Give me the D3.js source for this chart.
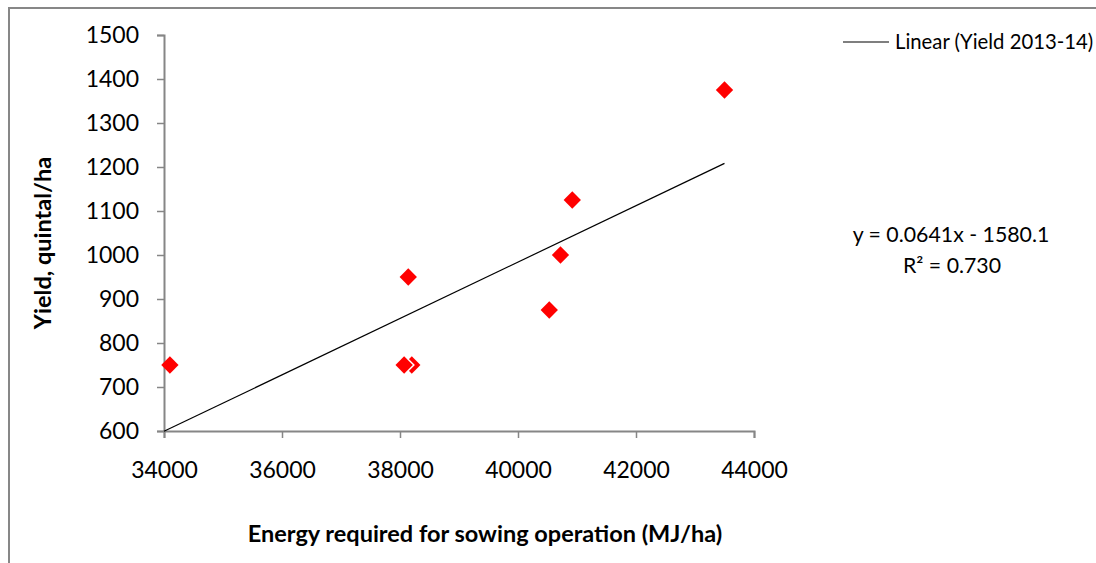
<!DOCTYPE html>
<html>
<head>
<meta charset="utf-8">
<script src="https://cdn.jsdelivr.net/npm/d3@7"></script>
<style>
  body { margin: 0; background: #fff; }
  text { font-family: Lato, "Open Sans", sans-serif; fill: #000; }
</style>
</head>
<body>
<div id="chart"></div>
<script>
// data
var energy = [34100, 38200, 38070, 38140, 40530, 40720, 40920, 43500];
var yieldVals = [750, 750, 750, 950, 875, 1000, 1125, 1375];
var xTicks = [34000, 36000, 38000, 40000, 42000, 44000];
var yTicks = [600, 700, 800, 900, 1000, 1100, 1200, 1300, 1400, 1500];
var trendSlope = 0.0641, trendIntercept = -1580.1;
var trendRange = [34000, 43500];
var eqLabel = "y = 0.0641x - 1580.1";
var r2Label = "R\u00b2 = 0.730";
var legendLabel = "Linear (Yield 2013-14)";

var W = 1096, H = 563;
var margin = { top: 35, left: 164, right: 342, bottom: 132 };
var width = W - margin.left - margin.right,
    height = H - margin.top - margin.bottom;

var svg = d3.select("#chart")
  .append("svg")
  .attr("width", W)
  .attr("height", H);

// outer frame (only top and left edges visible)
svg.append("path")
  .attr("d", "M9,563 V8 H1096")
  .attr("fill", "none")
  .attr("stroke", "#878787")
  .attr("stroke-width", 2);

var g = svg.append("g")
  .attr("transform", "translate(" + margin.left + "," + margin.top + ")");

var x = d3.scaleLinear().domain([34000, 44000]).range([0, width]);
var y = d3.scaleLinear().domain([600, 1500]).range([height, 0]);

// X axis
var xAxis = g.append("g")
  .attr("transform", "translate(0," + height + ")")
  .call(d3.axisBottom(x).tickValues(xTicks).tickFormat(d3.format("d")).tickSizeOuter(0).tickSize(7).tickPadding(24));

// Y axis
var yAxis = g.append("g")
  .call(d3.axisLeft(y).tickValues(yTicks).tickFormat(d3.format("d")).tickSizeOuter(0).tickSize(7).tickPadding(18));

[xAxis, yAxis].forEach(function (a) {
  a.select(".domain").attr("stroke", "#868686").attr("stroke-width", 2);
  a.selectAll(".tick line").attr("stroke", "#868686").attr("stroke-width", 1.5);
  a.selectAll(".tick text")
    .style("font-family", "Lato, sans-serif")
    .style("font-size", "23px")
    .attr("fill", "#000");
});

// trend line
var line = d3.line()
  .x(function (d) { return x(d); })
  .y(function (d) { return y(trendSlope * d + trendIntercept); });

g.append("path")
  .datum(trendRange)
  .attr("d", line)
  .attr("fill", "none")
  .attr("stroke", "#000")
  .attr("stroke-width", 1.2);

// points (diamonds)
var diamond = d3.symbol().type(d3.symbolSquare).size(150);
var pts = energy.map(function (e, i) { return { x: e, y: yieldVals[i] }; });

g.selectAll(".pt")
  .data(pts)
  .enter()
  .append("path")
  .attr("class", "pt")
  .attr("d", diamond)
  .attr("transform", function (d) {
    return "translate(" + x(d.x) + "," + y(d.y) + ") rotate(45)";
  })
  .attr("fill", "#ff0000")
  .attr("stroke", function (d, i) { return i === 2 ? "#fff" : "none"; })
  .attr("stroke-width", 3)
  .attr("paint-order", "stroke");

// axis titles
svg.append("text")
  .attr("x", 485)
  .attr("y", 542)
  .attr("text-anchor", "middle")
  .style("font-size", "23.5px")
  .style("font-weight", "bold")
  .text("Energy required for sowing operation (MJ/ha)");

svg.append("text")
  .attr("transform", "translate(51,243) rotate(-90)")
  .attr("text-anchor", "middle")
  .style("font-size", "23.5px")
  .style("font-weight", "bold")
  .text("Yield, quintal/ha");

// trendline equation
svg.append("text")
  .attr("x", 951)
  .attr("y", 242)
  .attr("text-anchor", "middle")
  .style("font-size", "21.3px")
  .text(eqLabel);

svg.append("text")
  .attr("x", 952)
  .attr("y", 273)
  .attr("text-anchor", "middle")
  .style("font-size", "21.3px")
  .text(r2Label);

// legend
var legend = svg.append("g").attr("transform", "translate(843,42)");
legend.append("line")
  .attr("x1", 0).attr("x2", 46)
  .attr("y1", 0).attr("y2", 0)
  .attr("stroke", "#000")
  .attr("stroke-width", 1.2);
legend.append("text")
  .attr("x", 52)
  .attr("y", 7)
  .style("font-size", "20.3px")
  .text(legendLabel);
</script>
</body>
</html>
